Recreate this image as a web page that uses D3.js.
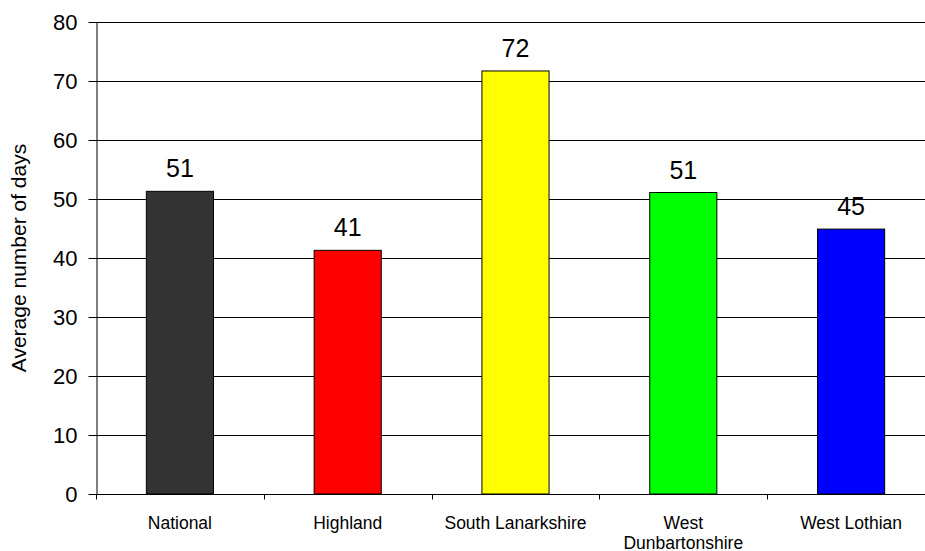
<!DOCTYPE html>
<html><head><meta charset="utf-8">
<script src="https://cdn.jsdelivr.net/npm/d3@7"></script>
<style>body{margin:0;background:#fff}svg{display:block;font-family:"Liberation Sans",Arial,sans-serif}</style>
</head><body>
<svg id="c" width="925" height="551"></svg>
<script>
const categories = ["National","Highland","South Lanarkshire","West Dunbartonshire","West Lothian"];
const values = [51.3, 41.3, 71.7, 51.1, 44.9];
const labels = ["51","41","72","51","45"];
const colors = ["#333333","#ff0000","#ffff00","#00ff00","#0000ff"];
const yTicks = [0,10,20,30,40,50,60,70,80];

const svg = d3.select("#c");
const mLeft = 96, mRight = 935, mTop = 22, mBottom = 494;
const x = d3.scaleBand().domain(categories).range([mLeft, mRight]).paddingInner(0).paddingOuter(0);
const y = d3.scaleLinear().domain([0, 80]).range([mBottom, mTop]);

// grid
svg.append("g").selectAll("line").data(yTicks.filter(d=>d>0)).join("line")
  .attr("x1", mLeft).attr("x2", 925)
  .attr("y1", d=>Math.round(y(d))+0.5).attr("y2", d=>Math.round(y(d))+0.5)
  .attr("stroke", "#000").attr("stroke-width", 1);

// bars
const bw = x.bandwidth()*0.4;
svg.append("g").selectAll("rect").data(categories).join("rect")
  .attr("x", (d)=>x(d)+x.bandwidth()/2-bw/2)
  .attr("y", (d,i)=>y(values[i]))
  .attr("width", bw)
  .attr("height", (d,i)=>y(0)-y(values[i]))
  .attr("fill", (d,i)=>colors[i])
  .attr("stroke", "#000").attr("stroke-width", 1);

// value labels
svg.append("g").selectAll("text").data(categories).join("text")
  .attr("x", d=>x(d)+x.bandwidth()/2)
  .attr("y", (d,i)=>y(values[i])-14)
  .attr("text-anchor","middle").attr("font-size", 25).attr("fill","#000")
  .text((d,i)=>labels[i]);

// y axis
const ya = svg.append("g").attr("transform", `translate(${mLeft+0.5},0)`)
  .call(d3.axisLeft(y).tickValues(yTicks).tickSize(8).tickSizeOuter(0).tickPadding(11));
ya.select(".domain").attr("stroke","#000");
ya.selectAll(".tick line").attr("stroke","#000");
ya.selectAll(".tick text").attr("font-size", 22).attr("font-family","'Liberation Sans',Arial,sans-serif").attr("fill","#000");

// x axis
const xa = svg.append("g").attr("transform", `translate(0,${mBottom+0.5})`);
xa.append("line").attr("x1", mLeft).attr("x2", 925).attr("stroke","#000");
const tickPos = categories.map(d=>x(d)).concat([x.range()[1]]);
xa.selectAll("line.t").data(tickPos).join("line").attr("class","t")
  .attr("x1", d=>Math.round(d)+0.5).attr("x2", d=>Math.round(d)+0.5).attr("y1",0).attr("y2",5).attr("stroke","#000");
const cl = xa.selectAll("text").data(categories).join("text")
  .attr("x", d=>x(d)+x.bandwidth()/2)
  .attr("y", 34)
  .attr("text-anchor","middle").attr("font-size", 17.5).attr("fill","#000");
cl.each(function(d){
  const t = d3.select(this);
  if (d === "West Dunbartonshire") {
    t.append("tspan").attr("x", x(d)+x.bandwidth()/2).attr("dy",0).text("West");
    t.append("tspan").attr("x", x(d)+x.bandwidth()/2).attr("dy",20).text("Dunbartonshire");
  } else t.text(d);
});

// y title
svg.append("text").attr("transform", `translate(26,258) rotate(-90)`)
  .attr("text-anchor","middle").attr("font-size", 21).attr("fill","#000")
  .text("Average number of days");
</script>
</body></html>
